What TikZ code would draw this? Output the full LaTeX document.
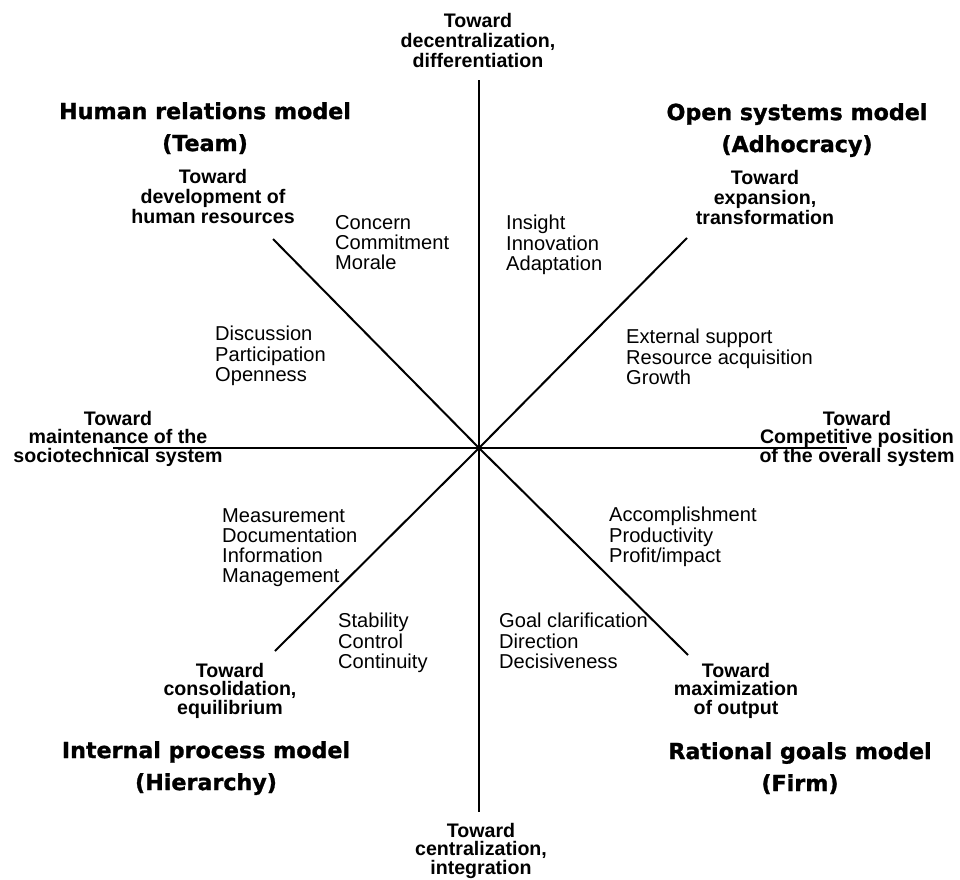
\documentclass[tikz,border=0pt]{standalone}
\usepackage{fontspec}
\setmainfont{Liberation Sans}
\newfontfamily\heavyfont[FakeBold=1.2]{DejaVu Sans}
\begin{document}
\begin{tikzpicture}[x=1pt,y=-1pt,
  axis/.style={line width=2pt, black},
  model/.style={font=\heavyfont\bfseries\fontsize{22.2}{32}\selectfont, align=center, anchor=north, inner sep=0pt},
  pole/.style={font=\bfseries\fontsize{19.6}{20}\selectfont, align=center, anchor=north, inner sep=0pt},
  tightpole/.style={pole, font=\bfseries\fontsize{19.6}{18.5}\selectfont},
  value/.style={font=\fontsize{20.1}{20.3}\selectfont, align=left, anchor=north west, inner sep=0pt},
]
\useasboundingbox (0,0) rectangle (960,879);
\fill[white] (0,0) rectangle (960,879);

% axis end points
\coordinate (c) at (479,448);
\coordinate (n) at (479,80);
\coordinate (s) at (479,812);
\coordinate (w) at (113,448);
\coordinate (e) at (847,448);
\coordinate (ne) at (687,238);
\coordinate (nw) at (273,239);
\coordinate (sw) at (275,651);
\coordinate (se) at (688,655);

% the eight axes
\draw[axis] (c) -- (n);
\draw[axis] (c) -- (s);
\draw[axis] (c) -- (w);
\draw[axis] (c) -- (e);
\draw[axis] (c) -- (ne);
\draw[axis] (c) -- (nw);
\draw[axis] (c) -- (sw);
\draw[axis] (c) -- (se);

% quadrant models
\node[model] (hr) at (205,102) {Human relations model\\(Team)};
\node[model] (os) at (797,103) {Open systems model\\(Adhocracy)};
\node[model] (ip) at (206,741) {Internal process model\\(Hierarchy)};
\node[model] (rg) at (800,742) {Rational goals model\\(Firm)};

% axis poles
\node[pole] (pn) at (478,13) {Toward\\decentralization,\\differentiation};
\node[tightpole] (ps) at (481,823) {Toward\\centralization,\\integration};
\node[tightpole] (pw) at (118,411) {Toward\\maintenance of the\\sociotechnical system};
\node[tightpole] (pe) at (857,411) {Toward\\Competitive position\\of the overall system};
\node[pole] (pnw) at (213,169) {Toward\\development of\\human resources};
\node[pole] (pne) at (765,170) {Toward\\expansion,\\transformation};
\node[tightpole] (psw) at (230,663) {Toward\\consolidation,\\equilibrium};
\node[tightpole] (pse) at (736,663) {Toward\\maximization\\of output};

% criteria of effectiveness
\node[value] (v1) at (335,215) {Concern\\Commitment\\Morale};
\node[value] (v2) at (506,215) {Insight\\Innovation\\Adaptation};
\node[value] (v3) at (215,326) {Discussion\\Participation\\Openness};
\node[value] (v4) at (626,329) {External support\\Resource acquisition\\Growth};
\node[value] (v5) at (222,508) {Measurement\\Documentation\\Information\\Management};
\node[value] (v6) at (609,507) {Accomplishment\\Productivity\\Profit/impact};
\node[value] (v7) at (338,613) {Stability\\Control\\Continuity};
\node[value] (v8) at (499,613) {Goal clarification\\Direction\\Decisiveness};
\end{tikzpicture}
\end{document}
